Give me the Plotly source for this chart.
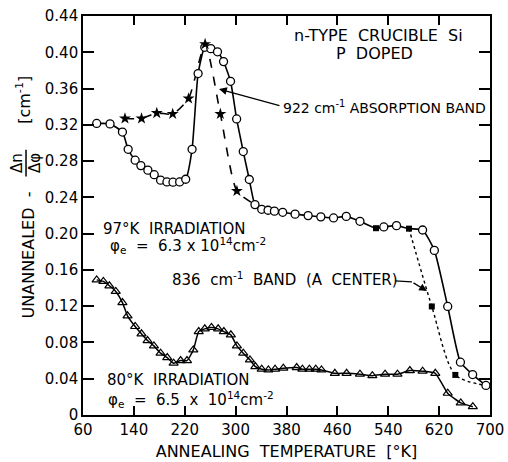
import plotly.graph_objects as go

# ---------------- data ----------------
circ_T = [81.5, 102.5, 122, 131, 142, 151, 162, 172, 182, 192, 201.5, 212, 221.5, 231.5,
          241, 251.5, 261, 271.5, 281, 292, 301.6, 312, 321.5, 330.4, 341, 351, 361, 374,
          393.5, 414, 434, 454, 474, 495.5, 533, 553, 594, 612.5, 633.5, 653.5, 672.7, 693.6]
circ_v = [0.3215, 0.321, 0.312, 0.293, 0.281, 0.275, 0.270, 0.265, 0.259, 0.257, 0.2567, 0.257,
          0.260, 0.293, 0.3765, 0.4055, 0.404, 0.4005, 0.3897, 0.368, 0.3265, 0.2905, 0.2597,
          0.232, 0.2268, 0.2258, 0.2248, 0.2235, 0.2215, 0.2199, 0.2185, 0.2173, 0.219, 0.2136,
          0.2074, 0.2088, 0.204, 0.1815, 0.1197, 0.0582, 0.0446, 0.0326]

star_T = [126, 152, 176, 201, 226, 252, 276, 302]
star_v = [0.327, 0.327, 0.333, 0.332, 0.349, 0.409, 0.332, 0.247]

sq_T = [520.7, 572.6, 608.5, 645.5]
sq_v = [0.206, 0.2055, 0.1197, 0.0442]

tri_T = [81.5, 92, 101.5, 111.5, 122, 130, 142, 152, 161.5, 171.5, 182, 192.5, 202.5, 213.5,
         223.5, 233.5, 242, 251.5, 262, 272.5, 281.5, 292.5, 302, 312, 322.5, 331, 341, 351.5,
         362, 375, 396, 405, 416, 426, 435, 456, 474.5, 495.5, 515, 535, 554.5, 574, 594, 614,
         633.5, 654, 673]
tri_v = [0.149, 0.1473, 0.1425, 0.1363, 0.124, 0.1094, 0.0976, 0.0895, 0.0821, 0.0762, 0.0682,
         0.0633, 0.0571, 0.060, 0.060, 0.0718, 0.092, 0.095, 0.0965, 0.095, 0.092, 0.0884, 0.0762,
         0.0682, 0.0608, 0.0534, 0.0505, 0.0497, 0.0505, 0.0516, 0.0523, 0.0505, 0.0505, 0.0505,
         0.0497, 0.046, 0.046, 0.045, 0.0434, 0.045, 0.045, 0.049, 0.0483, 0.046, 0.024, 0.0133,
         0.0092]

x_ticks = [60, 140, 220, 300, 380, 460, 540, 620, 700]
y_ticks = [0, 0.04, 0.08, 0.12, 0.16, 0.20, 0.24, 0.28, 0.32, 0.36, 0.40, 0.44]
y_ticklabels = ["0", "0.04", "0.08", "0.12", "0.16", "0.20", "0.24", "0.28", "0.32", "0.36", "0.40", "0.44"]

FONT = "DejaVu Sans"
K = "black"

fig = go.Figure()

# 97 K solid curve (passes through the first two squares)
pts = sorted(list(zip(circ_T, circ_v)) + list(zip(sq_T[:2], sq_v[:2])))
fig.add_trace(go.Scatter(x=[p[0] for p in pts], y=[p[1] for p in pts], mode="lines",
                         line=dict(color=K, width=1.6, shape="spline", smoothing=0.5),
                         showlegend=False, hoverinfo="skip"))
# dashed 922 band curve, ends on circle curve
fig.add_trace(go.Scatter(x=star_T + [circ_T[23]], y=star_v + [circ_v[23]], mode="lines",
                         line=dict(color=K, width=1.6, dash="dash", shape="spline", smoothing=0.6),
                         showlegend=False, hoverinfo="skip"))
# dotted A-center curve
fig.add_trace(go.Scatter(x=sq_T[1:] + [circ_T[-1]], y=sq_v[1:] + [circ_v[-1]], mode="lines",
                         line=dict(color=K, width=1.4, dash="dot", shape="spline", smoothing=0.8),
                         showlegend=False, hoverinfo="skip"))
# 80 K curve
fig.add_trace(go.Scatter(x=tri_T, y=tri_v, mode="lines+markers",
                         line=dict(color=K, width=1.5, shape="spline", smoothing=0.5),
                         marker=dict(symbol="triangle-up-open", size=8, color=K, line=dict(width=1.2)),
                         showlegend=False))
fig.add_trace(go.Scatter(x=circ_T, y=circ_v, mode="markers",
                         marker=dict(symbol="circle", size=8, color="white", line=dict(width=1.3, color=K)),
                         showlegend=False))
fig.add_trace(go.Scatter(x=star_T, y=star_v, mode="markers",
                         marker=dict(symbol="star", size=9, color=K, line=dict(width=0)),
                         showlegend=False))
fig.add_trace(go.Scatter(x=sq_T, y=sq_v, mode="markers",
                         marker=dict(symbol="square", size=6, color=K, line=dict(width=0)),
                         showlegend=False))

ann = []
def txt(x, y, t, xanchor="left", size=16, xref="x", yref="y", angle=0):
    ann.append(dict(x=x, y=y, xref=xref, yref=yref, text=t, showarrow=False, xanchor=xanchor,
                    yanchor="middle", textangle=angle, borderpad=0,
                    font=dict(family=FONT, size=size, color=K)))

txt(525, 0.418, "n-TYPE  CRUCIBLE  Si", xanchor="center")
txt(519, 0.399, "P  DOPED", xanchor="center")
txt(372.5, 0.3397, "922 cm<sup>-1</sup> ABSORPTION BAND", size=14)
txt(89.5, 0.205, "97°K  IRRADIATION", size=15)
txt(100.5, 0.1864, "φ<sub>e</sub>  =  6.3 x 10<sup>14</sup>cm<sup>-2</sup>", size=15)
txt(198, 0.150, "836  cm<sup>-1</sup>  BAND  (A  CENTER)", size=15)
txt(95.7, 0.0385, "80°K  IRRADIATION", size=15)
txt(97.3, 0.0176, "φ<sub>e</sub>  =  6.5  x  10<sup>14</sup>cm<sup>-2</sup>", size=15)

# arrows
ann.append(dict(x=273.9, y=0.3595, ax=371.3, ay=0.3408, xref="x", yref="y", axref="x", ayref="y",
                text="", showarrow=True, arrowhead=2, arrowsize=1.2, arrowwidth=1.3, arrowcolor=K))
ann.append(dict(x=600.9, y=0.1367, ax=577.3, ay=0.1467, xref="x", yref="y", axref="x", ayref="y",
                text="", showarrow=True, arrowhead=2, arrowsize=1.2, arrowwidth=1.3, arrowcolor=K))

# y-axis title pieces
txt(-0.135, 0.40, "UNANNEALED  -", xanchor="center", size=16, xref="paper", yref="paper", angle=-90)
txt(-0.162, 0.6316, "Δn", xanchor="center", size=15, xref="paper", yref="paper", angle=-90)
txt(-0.118, 0.6316, "Δφ", xanchor="center", size=15, xref="paper", yref="paper", angle=-90)
txt(-0.145, 0.79, "[cm<sup>-1</sup>]", xanchor="center", size=16, xref="paper", yref="paper", angle=-90)

shapes = [
    dict(type="line", xref="paper", yref="paper", x0=-0.140, x1=-0.140, y0=0.598, y1=0.665,
         line=dict(color=K, width=1.5)),
    dict(type="line", xref="x", yref="y", x0=550.6, x1=577.3, y0=0.1478, y1=0.1467,
         line=dict(color=K, width=1.3)),
]

fig.update_layout(
    width=508, height=462,
    margin=dict(l=83, r=18, t=16, b=47, autoexpand=False),
    paper_bgcolor="white", plot_bgcolor="white",
    font=dict(family=FONT, size=14, color=K),
    annotations=ann, shapes=shapes,
    xaxis=dict(range=[60, 700], tickvals=x_ticks, ticktext=[str(v) for v in x_ticks],
               ticks="inside", ticklen=9, tickwidth=1.5, tickcolor=K, automargin=False,
               showline=True, linecolor=K, linewidth=1.6, mirror="ticks", showgrid=False,
               zeroline=False, tickfont=dict(size=15),
               title=dict(text="ANNEALING  TEMPERATURE  [°K]", font=dict(size=16), standoff=8)),
    yaxis=dict(range=[0, 0.44], tickvals=y_ticks, ticktext=y_ticklabels, automargin=False,
               ticks="inside", ticklen=11, tickwidth=1.5, tickcolor=K,
               showline=True, linecolor=K, linewidth=1.6, mirror="ticks", showgrid=False,
               zeroline=False, tickfont=dict(size=15)),
)

fig.write_html("out.html", config={"displayModeBar": False},
               post_script="document.body.style.margin='0';")
